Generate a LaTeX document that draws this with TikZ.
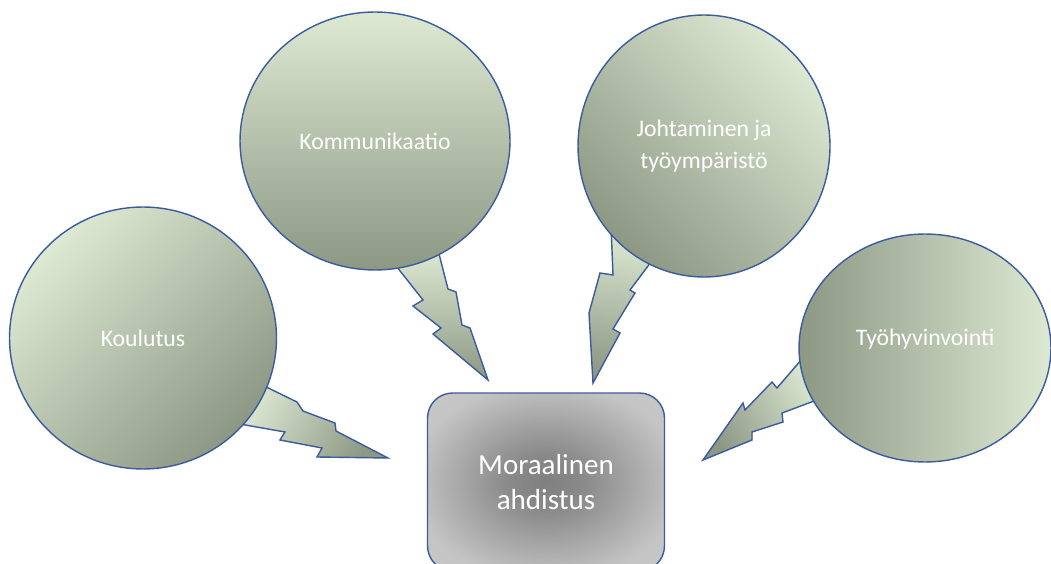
\documentclass[tikz,border=0pt]{standalone}
\usepackage{fontspec}
\setmainfont{Carlito}
\usepackage{tikz}
\usetikzlibrary{shapes.geometric, positioning}
\definecolor{leaflight}{HTML}{DDE9D3}
\definecolor{leafdark}{HTML}{8D9884}
\definecolor{rimblue}{HTML}{3A5C9E}
\pgfdeclareradialshading{boxglow}{\pgfpoint{0bp}{0bp}}{%
    color(0bp)=(black!50); color(8bp)=(black!46); color(28bp)=(black!23); color(50bp)=(black!20)}

\begin{document}
\begin{tikzpicture}[
    x=0.02cm, y=-0.02cm,
    bubble/.style={ellipse, draw=rimblue, line width=0.8pt, inner sep=0pt, align=center,
        text=white, font=\fontsize{13.5}{18}\selectfont},
    spark/.style={draw=rimblue, line width=0.8pt, line join=miter},
    core/.style={rectangle, rounded corners=0.5cm, draw=rimblue, line width=0.8pt, align=center,
        text=white, font=\fontsize{16.5}{20}\selectfont, shading=boxglow}
]
\useasboundingbox (0,0) rectangle (1051,564);

% lightning tails, drawn first so the bubbles cover their roots
\fill[spark, top color=leaflight, bottom color=leafdark, shading angle=60]
    (256,382) -- (297,402) -- (303,411) -- (335,423) -- (336,431) -- (388,458)
    -- (317,457) -- (322,448) -- (280,440) -- (285,432) -- (234,423) -- cycle;
\fill[spark, top color=leaflight, bottom color=leafdark]
    (393,262) -- (423,300) -- (413,306) -- (441,328) -- (433,334) -- (488,380)
    -- (470,328) -- (462,325) -- (456,292) -- (448,289) -- (438,250) -- cycle;
\fill[spark, top color=leaflight, bottom color=leafdark, shading angle=-10]
    (611,226) -- (613,275) -- (600,273) -- (589,313) -- (593,383)
    -- (620,333) -- (613,329) -- (635,293) -- (630,290) -- (654,258) -- cycle;
\fill[spark, top color=leaflight, bottom color=leafdark, shading angle=-60]
    (808,352) -- (777,388) -- (772,382) -- (745,410) -- (743,403) -- (703,460)
    -- (752,440) -- (752,432) -- (783,422) -- (782,413) -- (822,398) -- cycle;

% bubbles
\node[bubble, minimum width=5.34cm, minimum height=5.24cm,
    top color=leaflight, bottom color=leafdark, shading angle=45] (koulutus) at (143,338) {Koulutus};
\node[bubble, minimum width=5.4cm, minimum height=5.16cm,
    top color=leaflight, bottom color=leafdark] (kommunikaatio) at (375,141) {Kommunikaatio};
\node[bubble, minimum width=5.04cm, minimum height=5.24cm,
    top color=leaflight, bottom color=leafdark, shading angle=-45] (johtaminen) at (704,146) {Johtaminen ja\\työympäristö};
\node[bubble, minimum width=5.04cm, minimum height=4.56cm,
    top color=leaflight, bottom color=leafdark, shading angle=-90] (tyohyvinvointi) at (925,348) {\raisebox{0.44cm}{Työhyvinvointi}};

% centre box
\node[core, minimum width=4.74cm, minimum height=3.56cm] (ahdistus) at (546,482) {Moraalinen\\ahdistus};

\end{tikzpicture}
\end{document}
